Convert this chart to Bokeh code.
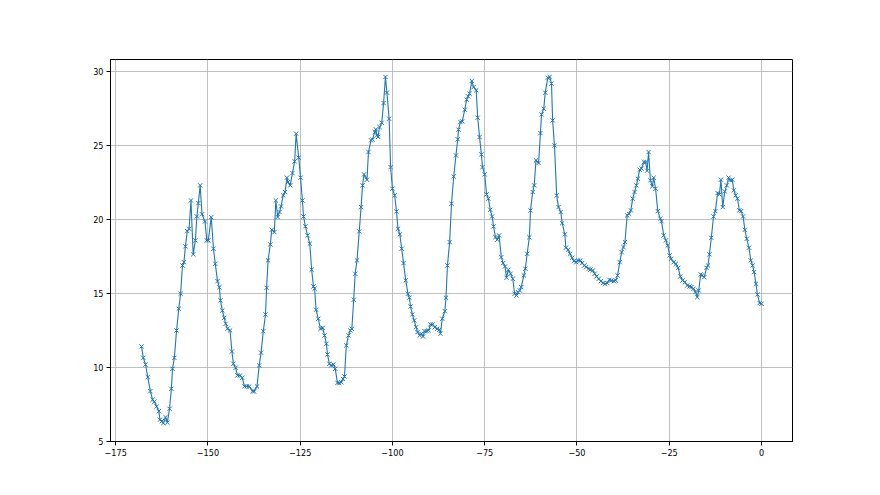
from bokeh.plotting import figure
from bokeh.models import Range1d
from bokeh.embed import file_html
from bokeh.resources import INLINE

hours = [
    -168.0, -167.5, -166.9, -166.3, -165.6, -165.0, -164.5, -163.9, -163.3, -163.0,
    -162.5, -162.1, -161.5, -161.0, -160.4, -159.9, -159.6, -159.1, -158.5, -157.9,
    -157.4, -156.9, -156.5, -156.1, -155.6, -155.1, -154.6, -154.0, -153.4, -153.0,
    -152.6, -152.1, -151.6, -150.8, -150.3, -149.9, -149.1, -148.5, -148.0, -147.4,
    -146.9, -146.6, -146.1, -145.6, -145.2, -144.7, -144.0, -143.5, -143.1, -142.5,
    -142.0, -141.3, -140.7, -140.1, -139.5, -138.8,
    -137.9, -137.5, -136.7, -136.1, -135.6, -135.0, -134.4, -134.1, -133.7, -133.1,
    -132.7, -132.0, -131.6, -131.1, -130.6, -130.2, -129.6, -129.1, -128.6, -128.3,
    -127.7, -127.1, -126.5, -126.1, -125.4, -124.9, -124.4, -124.1, -123.6, -123.0,
    -122.4, -121.9, -121.4, -121.1, -120.7, -120.1, -119.5, -118.9, -118.4, -117.9,
    -117.6, -117.1, -116.6, -116.0, -115.5, -114.9, -114.4, -113.9, -113.4, -113.0,
    -112.5, -111.9, -111.4, -111.0, -110.5, -110.1, -109.6, -109.0, -108.5, -108.1,
    -107.7,
    -106.9, -106.5, -105.8, -105.4, -104.8, -104.5, -104.2, -103.9, -103.5, -102.9,
    -102.4, -101.9, -101.5, -100.9, -100.5, -100.0, -99.4, -98.9, -98.5, -98.0,
    -97.5, -97.0, -96.4, -95.8, -95.4, -95.1, -94.6, -94.1, -93.6, -93.2,
    -92.6, -92.2, -91.7, -91.3, -90.7, -90.2, -89.7, -89.1, -88.5, -87.9,
    -87.3, -87.0, -86.5, -85.8, -85.5, -85.1, -84.5, -84.0, -83.4, -82.8,
    -82.3, -82.1, -81.6, -81.1, -80.4, -79.9, -79.5, -79.1, -78.5, -78.0,
    -77.3, -76.9, -76.4,
    -75.9, -75.6, -75.0, -74.5, -74.0, -73.5, -73.0, -72.6, -72.1, -71.6,
    -71.1, -70.5, -70.0, -69.5, -69.1, -68.6, -68.0, -67.4, -66.9, -66.4,
    -66.0, -65.5, -65.1, -64.4, -64.0, -63.5, -62.9, -62.6, -62.0, -61.6,
    -61.1, -60.4, -59.9, -59.6, -59.0, -58.6, -57.9, -57.4, -56.9, -56.6,
    -56.1, -55.5, -55.0, -54.4, -54.0, -53.3, -53.0, -52.4, -51.9, -51.3,
    -50.8, -50.2, -49.7, -49.1, -48.6, -48.0,
    -47.5, -46.8, -46.4, -45.7, -45.2, -44.7, -44.1, -43.5, -42.9, -42.4,
    -41.8, -41.2, -40.7, -40.0, -39.5, -39.0, -38.4, -37.9, -37.4, -37.0,
    -36.4, -35.9, -35.4, -34.9, -34.4, -33.9, -33.5, -33.0, -32.5, -31.9,
    -31.4, -31.0, -30.6, -30.1, -29.6, -29.2, -28.7, -28.1, -27.4, -27.1,
    -26.5, -25.9, -25.4, -24.9, -24.5, -23.8, -23.2, -22.6, -22.0, -21.4,
    -20.8,
    -20.1, -19.5, -19.0, -18.4, -17.9, -17.4, -17.0, -16.5, -16.1, -15.5,
    -14.9, -14.5, -14.1, -13.6, -13.0, -12.5, -11.9, -11.4, -11.0, -10.5,
    -9.95, -9.4, -8.9, -8.5, -7.9, -7.5, -7.0, -6.5, -6.0, -5.5,
    -5.0, -4.5, -4.0, -3.4, -2.9, -2.4, -2.0, -1.5, -1.1, -0.5,
    0.0,
]

values = [
    11.42, 10.65, 10.2, 9.35, 8.40, 7.82, 7.69, 7.36, 7.05, 6.47,
    6.37, 6.24, 6.64, 6.28, 7.21, 8.56, 9.91, 10.65, 12.5, 13.97,
    14.98, 16.89, 17.11, 18.18, 19.21, 19.37, 21.28, 17.64, 18.58, 20.2,
    21.1, 22.3, 20.35, 19.86, 18.58, 18.58, 20.15, 18.02, 17.0, 15.83,
    15.42, 14.53, 13.85, 13.36, 12.95, 12.62, 12.5, 11.08, 10.25, 9.98,
    9.46, 9.46, 9.30, 8.72, 8.72, 8.72,
    8.40, 8.38, 8.72, 10.14, 11.0, 12.45, 13.58, 15.38, 17.23, 18.31,
    19.30, 19.14, 21.28, 20.16, 20.5, 20.88, 21.62, 21.85, 22.82, 22.52,
    22.30, 23.13, 23.92, 25.79, 24.17, 22.82, 21.28, 20.2, 19.53, 18.92,
    18.36, 16.6, 15.47, 15.32, 13.9, 13.29, 12.61, 12.68, 12.16, 11.6,
    10.88, 10.25, 10.14, 10.2, 9.91, 8.96, 8.94, 9.0, 9.23, 9.39,
    11.49, 12.16, 12.5, 12.61, 14.57, 16.33, 17.23, 19.19, 20.83, 22.3,
    23.04,
    22.68, 24.55, 25.34, 25.4, 25.9, 26.08, 25.68, 25.57, 26.24, 26.53,
    27.86, 29.62, 28.56, 26.8, 23.53, 22.07, 21.62, 20.54, 19.37, 18.99,
    18.02, 17.05, 15.88, 14.98, 14.71, 14.12, 13.58, 13.18, 12.72, 12.39,
    12.16, 12.28, 12.09, 12.45, 12.45, 12.5, 12.91, 12.91, 12.72, 12.61,
    12.55, 12.28, 13.29, 13.8, 14.71, 16.89, 18.47, 21.06, 22.9, 24.32,
    25.41, 26.06, 26.58, 26.62, 27.41, 28.09, 28.31, 28.49, 29.35, 28.94,
    28.72, 26.87, 25.56,
    24.39, 23.53, 23.04, 21.69, 21.4, 20.65, 20.2, 19.53, 18.8, 18.63,
    18.92, 17.45, 17.05, 16.82, 16.06, 16.6, 16.33, 15.99, 14.98, 14.86,
    15.09, 15.2, 15.43, 16.22, 16.67, 17.68, 18.8, 20.61, 21.85, 22.3,
    23.99, 23.81, 25.83, 27.09, 27.48, 28.56, 29.57, 29.62, 29.17, 26.69,
    25.0, 21.62, 20.83, 20.5, 19.75, 18.99, 18.09, 17.95, 17.68, 17.41,
    17.18, 17.11, 17.23, 17.23, 17.05, 16.89,
    16.78, 16.67, 16.6, 16.55, 16.33, 16.15, 15.99, 15.83, 15.70, 15.65,
    15.70, 15.92, 15.88, 15.83, 15.88, 16.22, 17.11, 17.79, 18.13, 18.47,
    20.27, 20.38, 20.61, 21.4, 21.85, 22.3, 22.75, 23.36, 23.43, 23.87,
    23.87, 23.29, 24.55, 22.64, 22.23, 22.82, 22.07, 20.56, 20.04, 19.88,
    18.92, 18.58, 18.24, 17.57, 17.34, 17.11, 17.0, 16.73, 16.15, 15.88,
    15.76,
    15.54, 15.47, 15.43, 15.32, 15.09, 14.75, 15.2, 16.28, 16.22, 16.1,
    16.73, 16.89, 17.64, 18.76, 20.2, 20.56, 21.78, 21.69, 22.68, 20.83,
    21.89, 22.3, 22.82, 22.64, 22.68, 21.96, 21.62, 21.4, 20.61, 20.56,
    20.2, 19.3, 18.69, 18.09, 17.23, 16.89, 16.44, 15.65, 14.93, 14.35,
    14.3,
]

x_ticks = [-175, -150, -125, -100, -75, -50, -25, 0]
x_labels = ["\u2212175", "\u2212150", "\u2212125", "\u2212100", "\u221275", "\u221250", "\u221225", "0"]
y_ticks = [5, 10, 15, 20, 25, 30]
y_labels = ["5", "10", "15", "20", "25", "30"]

BLUE = "#1f77b4"
FONT = "DejaVu Sans Condensed, DejaVu Sans"

p = figure(width=872, height=487, output_backend="svg", toolbar_location=None,
           x_range=Range1d(-176.4, 8.4), y_range=Range1d(5.0, 30.8),
           min_border_left=110, min_border_right=80, min_border_top=59,
           min_border_bottom=46)
p.background_fill_color = "white"
p.border_fill_color = "white"
p.outline_line_color = "black"
p.outline_line_width = 1

p.line(hours, values, line_color=BLUE, line_width=1.1)
p.scatter(hours, values, marker="x", size=6, line_color=BLUE, line_width=1)

p.xaxis.ticker = x_ticks
p.yaxis.ticker = y_ticks
p.xaxis.major_label_overrides = {t: l for t, l in zip(x_ticks, x_labels)}
p.yaxis.major_label_overrides = {t: l for t, l in zip(y_ticks, y_labels)}

for ax in (p.xaxis, p.yaxis):
    ax.axis_line_color = "black"
    ax.axis_line_width = 1
    ax.major_tick_line_color = "black"
    ax.major_tick_in = 0
    ax.major_tick_out = 4
    ax.minor_tick_line_color = None
    ax.major_label_text_font = FONT
    ax.major_label_text_font_size = "9px"
    ax.major_label_text_color = "black"
    ax.major_label_standoff = 3

p.xgrid.grid_line_color = "#b0b0b0"
p.ygrid.grid_line_color = "#b0b0b0"
p.xgrid.grid_line_width = 0.8
p.ygrid.grid_line_width = 0.8

open("out.html", "w").write(file_html(p, INLINE))
